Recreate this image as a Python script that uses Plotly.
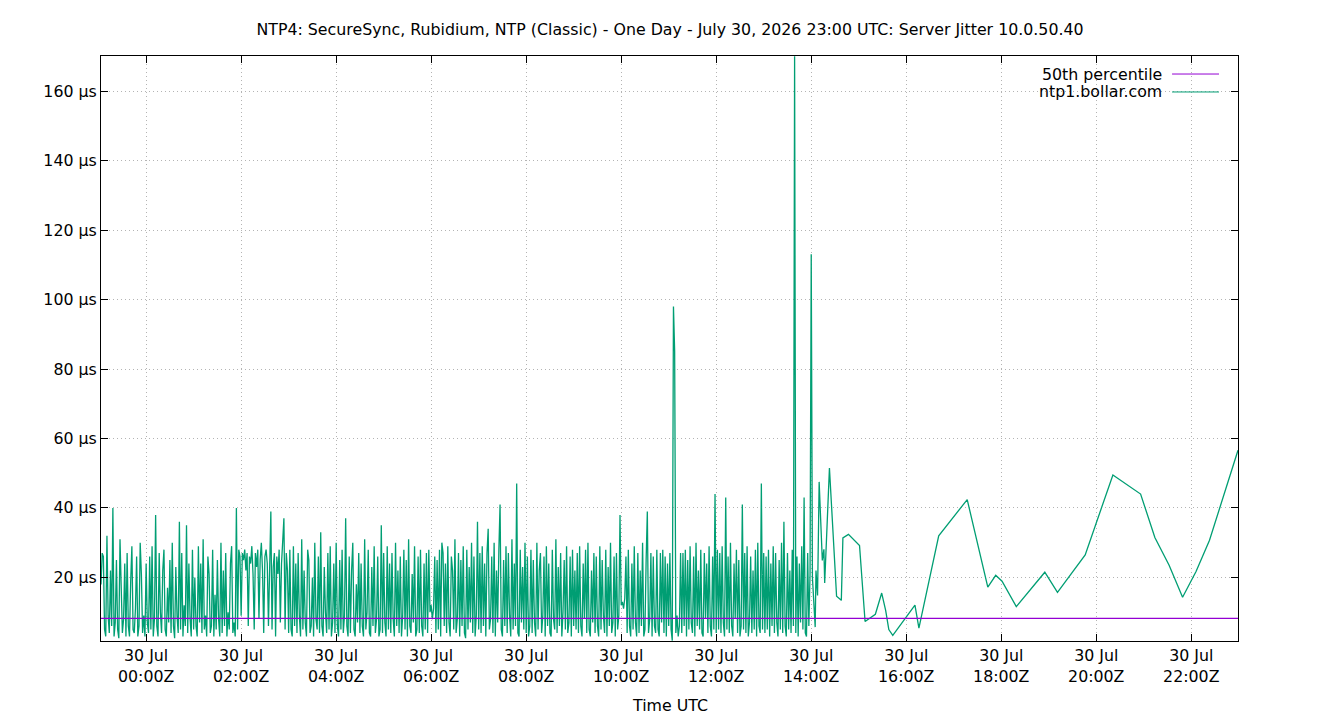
import pandas as pd
import plotly.graph_objects as go

# ---------------- data ----------------
dense_start = "2026-07-29 23:03:00"
dense_step = "90s"
dense_values = [
    # 23:03 - 00:03
    18, 27, 26, 5, 3, 32, 9, 4, 22, 6, 40, 3, 7, 25, 5, 2.5, 31, 12, 4, 8,
    24, 3, 27, 6, 3, 19, 29, 5, 4, 11, 26, 3, 6, 30, 21, 4, 9, 3, 24, 7,
    # 00:03 - 01:03
    4, 26, 5, 29, 3, 8, 38, 6, 3, 27, 10, 4, 22, 28, 5, 3, 17, 7, 25, 4,
    30, 6, 2.5, 23, 9, 4, 36, 5, 27, 3, 12, 6, 35, 4, 24, 8, 3, 28, 5, 20,
    # 01:03 - 02:03
    6, 3, 29, 7, 24, 4, 31, 5, 9, 3, 26, 21, 4, 6, 28, 3, 15, 5, 25, 8,
    3, 30, 4, 22, 6, 27, 3, 10, 5, 24, 29, 4, 7, 3, 40, 5, 28, 26, 9, 27,
    # 02:03 - 03:03
    25, 28, 22, 27, 6, 26, 24, 29, 21, 5, 27, 23, 28, 8, 25, 30, 22, 4, 26, 28,
    24, 6, 29, 39, 5, 23, 27, 3, 26, 21, 28, 7, 24, 30, 37, 5, 27, 22, 4, 28,
    # 03:03 - 04:03
    5, 3, 29, 6, 24, 4, 27, 9, 3, 31, 5, 22, 7, 3, 28, 25, 4, 6, 20, 3,
    30, 8, 5, 26, 4, 33, 6, 3, 23, 10, 4, 27, 5, 29, 3, 7, 24, 4, 30, 6,
    # 04:03 - 05:03
    3, 25, 5, 28, 4, 9, 37, 6, 3, 26, 4, 22, 30, 5, 3, 18, 7, 27, 4, 24,
    6, 3, 31, 5, 10, 28, 4, 3, 23, 6, 29, 4, 8, 26, 3, 5, 35, 4, 27, 7,
    # 05:03 - 06:03
    3, 29, 5, 24, 4, 27, 8, 3, 30, 6, 22, 4, 26, 3, 9, 28, 5, 25, 3, 31,
    6, 4, 21, 7, 29, 3, 5, 26, 4, 28, 6, 3, 24, 5, 27, 4, 28, 10, 12, 8,
    # 06:03 - 07:03
    11, 26, 4, 25, 5, 28, 3, 30, 27, 6, 24, 4, 29, 7, 3, 26, 22, 5, 31, 4,
    8, 27, 3, 25, 6, 29, 4, 2.5, 28, 5, 23, 7, 30, 4, 26, 3, 9, 36, 5, 27,
    # 07:03 - 08:03
    4, 29, 6, 24, 3, 27, 34, 5, 8, 26, 4, 30, 3, 22, 7, 28, 41, 5, 3, 25,
    6, 29, 4, 27, 9, 3, 31, 5, 24, 6, 47, 4, 3, 28, 7, 23, 5, 30, 4, 26,
    # 08:03 - 09:03
    3, 6, 28, 4, 25, 7, 3, 30, 5, 22, 27, 4, 9, 26, 3, 29, 6, 24, 4, 3,
    28, 8, 5, 31, 4, 23, 6, 27, 3, 10, 25, 5, 29, 4, 7, 26, 3, 28, 6, 22,
    # 09:03 - 10:03
    5, 27, 4, 29, 6, 3, 24, 8, 28, 4, 30, 5, 3, 22, 7, 27, 4, 26, 6, 3,
    29, 5, 25, 9, 4, 28, 3, 23, 6, 30, 4, 7, 26, 3, 27, 5, 9, 38, 12, 13,
    # 10:03 - 11:03
    11, 14, 26, 4, 28, 6, 3, 24, 5, 29, 7, 3, 27, 4, 22, 6, 30, 3, 5, 25,
    39, 4, 8, 27, 3, 26, 6, 4, 28, 5, 3, 27, 7, 28, 4, 26, 3, 24, 6, 27,
    # 11:03 - 12:03
    5, 1.8, 98, 85, 4, 9, 3, 6, 27, 4, 27, 6, 28, 3, 25, 5, 29, 7, 4, 26,
    3, 30, 6, 22, 5, 28, 4, 3, 27, 8, 24, 4, 29, 6, 3, 26, 5, 44, 4, 28,
    # 12:03 - 13:03
    5, 27, 4, 29, 7, 3, 43, 5, 26, 4, 30, 6, 3, 24, 8, 28, 4, 25, 3, 6,
    41, 5, 27, 4, 29, 3, 7, 26, 4, 22, 5, 28, 3, 30, 6, 4, 47, 5, 27, 4,
    # 13:03 - 14:03
    26, 5, 28, 3, 24, 6, 29, 4, 27, 7, 3, 25, 5, 30, 4, 36, 6, 3, 27, 5,
    22, 4, 28, 6, 170, 4, 26, 3, 24, 7, 29, 5, 43, 4, 3, 27, 6, 21, 113, 20,
]

sparse_times = [
    "2026-07-30 14:05", "2026-07-30 14:06", "2026-07-30 14:08", "2026-07-30 14:10",
    "2026-07-30 14:14", "2026-07-30 14:16", "2026-07-30 14:17", "2026-07-30 14:23",
    "2026-07-30 14:32", "2026-07-30 14:38", "2026-07-30 14:40", "2026-07-30 14:47",
    "2026-07-30 15:01", "2026-07-30 15:08", "2026-07-30 15:21", "2026-07-30 15:29",
    "2026-07-30 15:34", "2026-07-30 15:38", "2026-07-30 15:43", "2026-07-30 16:11",
    "2026-07-30 16:16", "2026-07-30 16:41", "2026-07-30 17:17", "2026-07-30 17:43",
    "2026-07-30 17:53", "2026-07-30 18:01", "2026-07-30 18:19", "2026-07-30 18:55",
    "2026-07-30 19:11", "2026-07-30 19:46", "2026-07-30 20:21", "2026-07-30 20:56",
    "2026-07-30 21:14", "2026-07-30 21:32", "2026-07-30 21:49", "2026-07-30 22:06",
    "2026-07-30 22:23", "2026-07-30 22:59",
]
sparse_values = [
    5.7, 22.0, 14.8, 47.5, 24.9, 28.1, 18.4, 51.5,
    14.6, 13.4, 31.4, 32.4, 29.2, 7.3, 9.4, 15.5,
    10.5, 5.0, 3.3, 12.0, 5.4, 32.0, 42.4, 17.2,
    20.6, 18.9, 11.6, 21.5, 15.7, 26.5, 49.5, 44.0,
    31.5, 23.5, 14.3, 21.7, 30.7, 56.6,
]

percentile_50 = 8.2
x_range = ["2026-07-29 23:03:00", "2026-07-30 22:59:00"]
y_range = [1.7, 170.1]

x_tickvals = [f"2026-07-30 {h:02d}:00" for h in range(0, 24, 2)]
x_ticktext = [f"30 Jul<br>{h:02d}:00Z" for h in range(0, 24, 2)]
y_tickvals = [20, 40, 60, 80, 100, 120, 140, 160]
y_ticktext = [f"{v} µs" for v in y_tickvals]

title_text = "NTP4: SecureSync, Rubidium, NTP (Classic) - One Day - July 30, 2026 23:00 UTC: Server Jitter 10.0.50.40"
series_names = ["50th percentile", "ntp1.bollar.com"]
series_colors = ["#9400d3", "#009e73"]

# ---------------- build ----------------
dense_times = pd.date_range(dense_start, periods=len(dense_values), freq=dense_step)
all_times = list(dense_times) + list(pd.to_datetime(sparse_times))
all_values = dense_values + sparse_values

FONT = "DejaVu Sans, Liberation Sans, sans-serif"
FS = 15.8

fig = go.Figure()
fig.add_trace(go.Scatter(
    x=all_times, y=all_values, mode="lines", name=series_names[1],
    line=dict(color=series_colors[1], width=1.3), showlegend=False,
))
fig.add_trace(go.Scatter(
    x=x_range, y=[percentile_50, percentile_50], mode="lines", name=series_names[0],
    line=dict(color=series_colors[0], width=1.3), showlegend=False,
))

axis_common = dict(
    showline=True, linecolor="black", linewidth=1, mirror="ticks",
    ticks="inside", ticklen=7, tickcolor="black", tickwidth=1,
    showgrid=True, gridcolor="#b4b4b4", griddash="1px,3px", gridwidth=1,
    zeroline=False, tickfont=dict(family=FONT, size=FS, color="black"),
)

fig.update_layout(
    width=1340, height=720,
    margin=dict(l=101, r=102, t=56, b=79),
    paper_bgcolor="white", plot_bgcolor="white",
    font=dict(family=FONT, size=FS, color="black"),
    title=dict(text=title_text, x=0.5, xref="container", xanchor="center",
               y=1 - 29 / 720, yref="container", yanchor="middle",
               font=dict(family=FONT, size=FS, color="black")),
    xaxis=dict(type="date", range=x_range, tickmode="array",
               tickvals=x_tickvals, ticktext=x_ticktext, **axis_common),
    yaxis=dict(range=y_range, tickmode="array",
               tickvals=y_tickvals, ticktext=y_ticktext, **axis_common),
    showlegend=False,
)

# axis label
fig.add_annotation(text="Time UTC", xref="paper", yref="paper", x=0.5, y=-0.111,
                   showarrow=False, yanchor="middle", xanchor="center",
                   font=dict(family=FONT, size=FS, color="black"))

# legend (gnuplot style: text right-aligned, sample to the right)
legend_rows_y = [0.9692, 0.9385]
for name, color, yy in zip(series_names, series_colors, legend_rows_y):
    fig.add_annotation(text=name, xref="paper", yref="paper", x=0.9345, y=yy,
                       showarrow=False, xanchor="right", yanchor="middle",
                       font=dict(family=FONT, size=FS, color="black"))
    fig.add_shape(type="line", xref="paper", yref="paper", x0=0.9420, x1=0.9833,
                  y0=yy, y1=yy, line=dict(color=color, width=1))

fig.write_html("out.html")
